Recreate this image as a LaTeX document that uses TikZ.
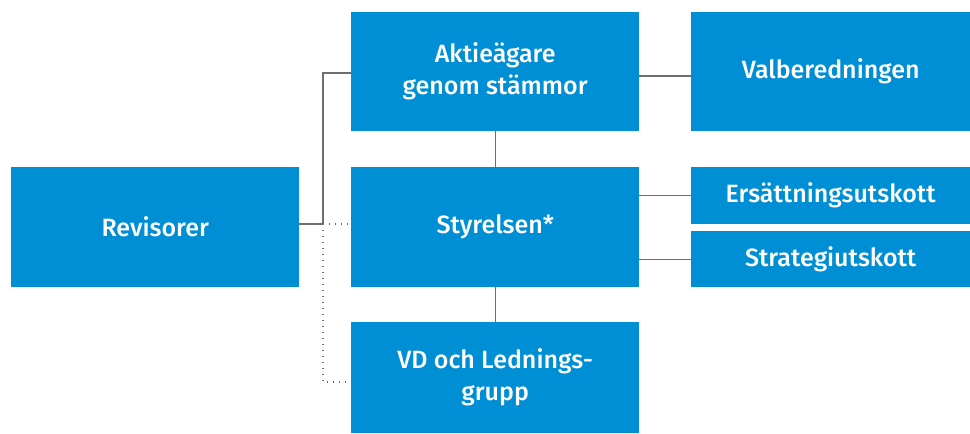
\documentclass[tikz,border=0pt]{standalone}
\usepackage{fontspec}
\setmainfont{Fira Sans}[UprightFont=* Medium]
\begin{document}
\begin{tikzpicture}[x=1pt,y=-1pt,
  box/.style={fill=boxblue, text=white, anchor=north west, inner sep=0pt, align=center,
    font=\fontsize{25}{32}\selectfont},
  conn/.style={draw=linegray, line width=1.1pt},
  dotconn/.style={draw=linegray, line width=1.1pt, dash pattern=on 1.1pt off 4.9pt}]
\definecolor{boxblue}{HTML}{008FD5}
\definecolor{linegray}{HTML}{6E6E6E}
\useasboundingbox (0,0) rectangle (970,434);
\node[box, minimum width=288pt, minimum height=120pt] (rev) at (11,167) {Revisorer};
\node[box, minimum width=288pt, minimum height=119pt] (akt) at (351,12) {Aktieägare\\genom stämmor};
\node[box, minimum width=279pt, minimum height=119pt] (val) at (691,12) {Valberedningen};
\node[box, minimum width=288pt, minimum height=120pt] (sty) at (351,167) {Styrelsen*};
\node[box, minimum width=279pt, minimum height=57pt] (ers) at (691,167) {Ersättningsutskott};
\node[box, minimum width=279pt, minimum height=56pt] (str) at (691,231) {Strategiutskott};
\node[box, minimum width=288pt, minimum height=111pt] (vd) at (351,322) {VD och Lednings-\\grupp};
\coordinate (j) at (323,224);
\coordinate (jt) at (323,73);
\coordinate (jb) at (323,382);
\draw[conn] (rev.east |- j) -- (j) -- (jt) -- (akt.west |- jt);
\draw[dotconn] (j) -- (sty.west |- j);
\draw[dotconn] (j) -- (jb) -- (vd.west |- jb);
\coordinate (av) at (0,76);
\draw[conn] (akt.east |- av) -- (val.west |- av);
\draw[conn] (sty.east |- ers.west) -- (ers.west);
\draw[conn] (sty.east |- str.west) -- (str.west);
\draw[conn] (akt.south) -- (sty.north);
\draw[conn] (sty.south) -- (vd.north);
\end{tikzpicture}
\end{document}
